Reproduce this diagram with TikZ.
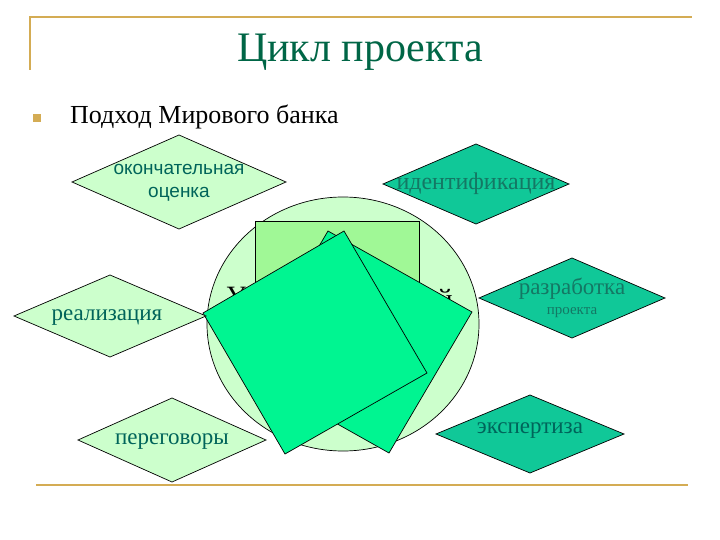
\documentclass[tikz,border=0pt]{standalone}
\usepackage{fontspec}
\setmainfont{Liberation Serif}
\newfontfamily\arialf{Liberation Sans}
\usetikzlibrary{shapes.geometric}
\definecolor{gold}{RGB}{212,172,84}
\definecolor{titlegreen}{RGB}{0,102,70}
\definecolor{lightg}{RGB}{204,255,204}
\definecolor{tealfill}{RGB}{16,200,152}
\definecolor{darkteal}{RGB}{0,100,90}
\definecolor{mutedteal}{RGB}{20,120,100}
\definecolor{rectg}{RGB}{160,248,150}
\definecolor{sqg}{RGB}{0,245,145}
\newcommand{\dmd}[5]{% cx cy hw hh fill
  \path[draw=black, line width=0.7pt, fill=#5] (#1-#3,#2) -- (#1,#2-#4) -- (#1+#3,#2) -- (#1,#2+#4) -- cycle;}
\begin{document}
\begin{tikzpicture}[x=1pt,y=-1pt,
  goldline/.style={draw=gold, line width=2.6pt},
  lbl/.style={inner sep=0pt, text=darkteal, align=center},
  tlbl/.style={inner sep=0pt, text=mutedteal, align=center},
  sqstyle/.style={draw=black, line width=0.7pt, fill=sqg, line join=miter}]
\useasboundingbox (0,0) rectangle (720,540);
\fill[white] (0,0) rectangle (720,540);
% frame lines
\coordinate (tl) at (30,17);
\coordinate (tr) at (692,17);
\coordinate (tv) at (30,70);
\coordinate (bl) at (36,485);
\coordinate (br) at (688,485);
\draw[goldline] (tv) -- (tl) -- (tr);
\draw[goldline] (bl) -- (br);
% title
\node[inner sep=0pt, text=titlegreen, font=\fontsize{42}{48}\selectfont] (title) at (360,52) {Цикл проекта};
% bullet
\node[fill=gold, minimum size=8pt, inner sep=0pt] (bullet) at (37,118) {};
\node[anchor=west, inner sep=0pt, font=\fontsize{26}{30}\selectfont] (sub) at (70,117) {Подход Мирового банка};
% central ellipse and rectangle
\node[ellipse, draw=black, line width=0.7pt, fill=lightg, minimum width=272pt, minimum height=254pt, inner sep=0pt] (circ) at (343,324) {};
\node[draw=black, line width=0.7pt, fill=rectg, anchor=north west, minimum width=164pt, minimum height=110pt, inner sep=0pt] (rect) at (255,221) {};
% hidden text fragments
\node[anchor=base, inner sep=0pt, font=\fontsize{28}{32}\selectfont] (hidU) at (236,305) {У};
\node[anchor=base, inner sep=0pt, font=\fontsize{28}{32}\selectfont] (hidJ) at (445,308) {й};
% squares
\draw[sqstyle] (328,231) -- (472,312) -- (389,453) -- (245,372) -- cycle;
\draw[sqstyle] (203,313) -- (344,231) -- (427,373) -- (285,454) -- cycle;
% diamonds
\dmd{179}{182}{107}{47}{lightg}
\node[lbl, font=\arialf\fontsize{19}{23}\selectfont] (okon) at (179,183) {окончательная\\оценка};
\dmd{110}{316}{96}{41}{lightg}
\node[lbl, font=\fontsize{23}{26}\selectfont] (real) at (107,318) {реализация};
\dmd{476}{184}{93}{40}{tealfill}
\node[tlbl, font=\fontsize{24}{28}\selectfont] (ident) at (476,184) {идентификация};
\dmd{572}{298}{93}{40}{tealfill}
\node[tlbl, font=\fontsize{23}{26}\selectfont] (razr) at (572,289) {разработка};
\node[tlbl, font=\fontsize{15}{18}\selectfont] (proj) at (572,313) {проекта};
\dmd{172}{440}{94}{42}{lightg}
\node[lbl, font=\fontsize{23}{26}\selectfont] (pereg) at (172,442) {переговоры};
\dmd{530}{434}{94}{39}{tealfill}
\node[lbl, font=\fontsize{23}{26}\selectfont] (eksp) at (530,431) {экспертиза};
\end{tikzpicture}
\end{document}
